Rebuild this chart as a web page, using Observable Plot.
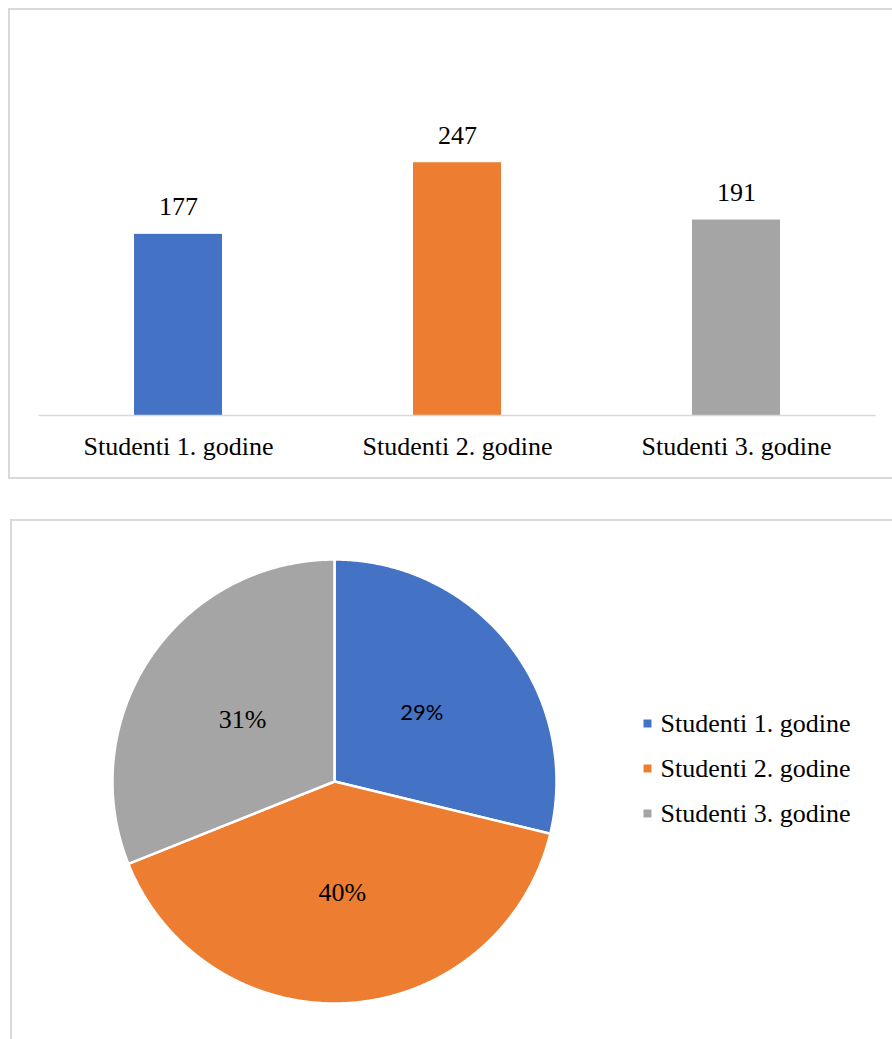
<!DOCTYPE html>
<html><head><meta charset="utf-8">
<script src="https://cdn.jsdelivr.net/npm/d3@7"></script>
<script src="https://cdn.jsdelivr.net/npm/@observablehq/plot@0.6"></script>
<style>
html,body{margin:0;padding:0;background:#fff;width:892px;height:1039px;overflow:hidden;position:relative}
.box{position:absolute;border:2px solid #d9d9d9;box-sizing:border-box}
#box1{left:8px;top:8px;width:1000px;height:471px}
#box2{left:10px;top:519px;width:1000px;height:700px}
.abs{position:absolute}
</style></head><body>
<div class="box" id="box1"></div><div class="box" id="box2"></div>
<div class="abs" id="bar" style="left:0;top:0"></div>
<div class="abs" id="pie" style="left:100px;top:547px"></div>
<div class="abs" id="legend" style="left:630px;top:690px"></div>
<script>
const categories = ["Studenti 1. godine", "Studenti 2. godine", "Studenti 3. godine"];
const counts = [177, 247, 191];
const colors = ["#4472C4", "#ED7D31", "#A5A5A5"];
const yDomain = [0, 300];

const serif = "'Liberation Serif', 'Times New Roman', serif";
const sans = "Lato, 'Liberation Sans', sans-serif";

const data = categories.map((c, i) => ({cat: c, count: counts[i]}));

// Bar chart
const bar = Plot.plot({
  width: 892, height: 480,
  marginLeft: 38.5, marginRight: 16.5, marginTop: 108, marginBottom: 65,
  style: {fontFamily: serif, color: "#000", background: "transparent"},
  x: {domain: categories, paddingInner: 0.685, paddingOuter: 0.34, label: null},
  y: {domain: yDomain, axis: null},
  color: {domain: categories, range: colors},
  marks: [
    Plot.barY(data, {x: "cat", y: "count", fill: "cat"}),
    Plot.ruleY([0], {stroke: "#d9d9d9", strokeWidth: 1.5}),
    Plot.text(data, {x: "cat", y: "count", text: d => String(d.count), lineAnchor: "bottom", dy: -19, fontSize: 26, fontFamily: serif, fill: "#000"}),
    Plot.axisX({tickSize: 0, tickPadding: 21, fontSize: 26, fontFamily: serif, label: null, fill: "#000"})
  ]
});
document.getElementById("bar").appendChild(bar);

// Pie chart
const total = d3.sum(counts);
const arcs = d3.pie().sort(null).value(d => d.count)(data);
const slices = arcs.map(a => {
  const pts = [{x: 0, y: 0}];
  const n = Math.max(2, Math.ceil((a.endAngle - a.startAngle) / 0.005));
  for (let k = 0; k <= n; k++) {
    const t = a.startAngle + (a.endAngle - a.startAngle) * k / n;
    pts.push({x: Math.sin(t), y: Math.cos(t)});
  }
  pts.push({x: 0, y: 0});
  return {cat: a.data.cat, pts};
});
const labels = arcs.map((a, i) => {
  const m = (a.startAngle + a.endAngle) / 2;
  return {x: 0.5 * Math.sin(m), y: 0.5 * Math.cos(m), text: Math.round(a.data.count / total * 100) + "%", i};
});

const pie = Plot.plot({
  width: 468, height: 468,
  margin: 12,
  style: {background: "transparent", fontFamily: serif},
  x: {domain: [-1, 1], axis: null},
  y: {domain: [-1, 1], axis: null},
  marks: [
    ...slices.map((s, i) => Plot.line(s.pts, {x: "x", y: "y", fill: colors[i], stroke: "white", strokeWidth: 2.5, strokeLinejoin: "round"})),
    Plot.text(labels.filter(d => d.i === 0), {x: "x", y: "y", text: "text", fontSize: 22, fontFamily: sans, fill: "#000"}),
    Plot.text(labels.filter(d => d.i !== 0), {x: "x", y: "y", text: "text", fontSize: 26, fontFamily: serif, fill: "#000"})
  ]
});
document.getElementById("pie").appendChild(pie);

// Legend
const legend = Plot.plot({
  width: 262, height: 150,
  marginLeft: 17, marginRight: 0, marginTop: 33, marginBottom: 27,
  style: {background: "transparent", fontFamily: serif},
  x: {domain: [0, 1], axis: null},
  y: {type: "point", domain: categories, padding: 0, axis: null},
  color: {domain: categories, range: colors},
  marks: [
    Plot.dot(data, {x: () => 0, y: "cat", fill: "cat", symbol: "square", r: 4.5}),
    Plot.text(data, {x: () => 0, y: "cat", text: "cat", dx: 13, textAnchor: "start", fontSize: 26, fontFamily: serif, fill: "#000"})
  ]
});
document.getElementById("legend").appendChild(legend);
</script>
</body></html>
